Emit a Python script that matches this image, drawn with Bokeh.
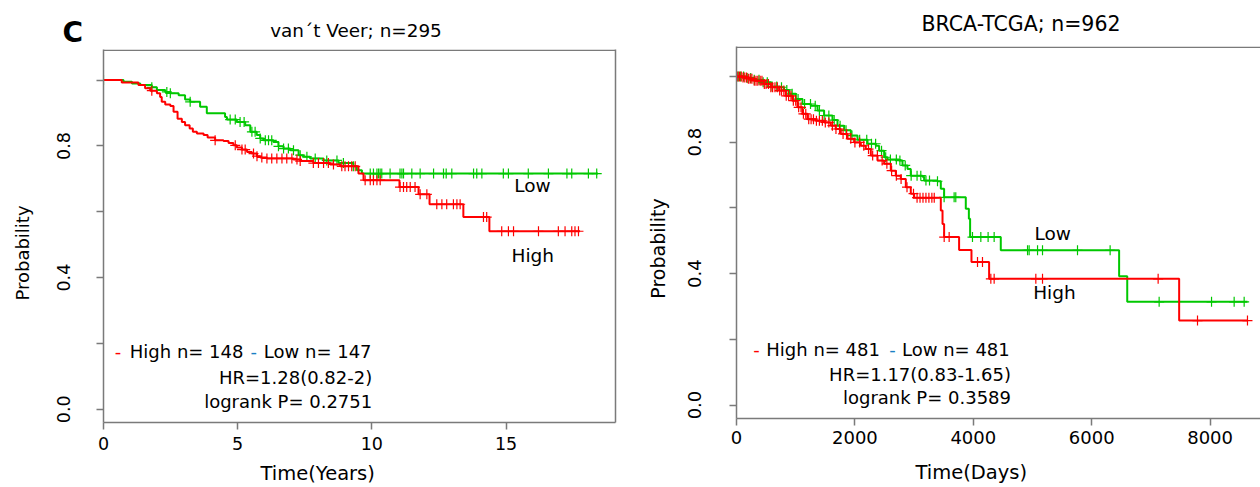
import numpy as np
from bokeh.plotting import figure
from bokeh.models import Range1d, LinearAxis, FixedTicker, Label, PrintfTickFormatter, Span
from bokeh.layouts import row, column
from bokeh.embed import file_html
from bokeh.resources import INLINE

# ---------------- data: van't Veer (years) ----------------
vv_high_t = [0, 0.68, 1.30, 1.55, 1.74, 1.99, 2.11, 2.17, 2.30, 2.49, 2.61, 2.76, 2.92, 3.04, 3.21, 3.33,
             3.48, 3.73, 3.88, 4.16, 4.47, 4.66, 4.84, 4.97, 5.16, 5.35, 5.53, 5.72, 5.84, 6.09, 7.08,
             7.33, 7.82, 8.45, 8.82, 9.50, 9.69, 11.03, 11.74, 12.15, 13.41, 14.38, 17.76]
vv_high_s = [1.0, 0.993, 0.985, 0.975, 0.968, 0.960, 0.949, 0.934, 0.926, 0.921, 0.904, 0.883, 0.873, 0.863,
             0.853, 0.843, 0.838, 0.833, 0.826, 0.817, 0.815, 0.809, 0.802, 0.795, 0.789, 0.782, 0.777,
             0.769, 0.765, 0.762, 0.759, 0.754, 0.748, 0.744, 0.738, 0.716, 0.696, 0.675, 0.653, 0.623,
             0.584, 0.541, 0.541]
vv_low_t = [0, 0.745, 1.06, 1.37, 1.80, 1.99, 2.30, 2.49, 2.80, 3.04, 3.23, 3.60, 3.85, 4.53, 4.60, 4.97,
            5.28, 5.47, 5.71, 5.84, 5.96, 6.33, 6.52, 6.71, 6.96, 7.27, 7.45, 7.70, 8.20, 8.76, 9.31, 9.44,
            9.63, 18.43]
vv_low_s = [1.0, 0.995, 0.990, 0.985, 0.978, 0.970, 0.964, 0.960, 0.954, 0.941, 0.934, 0.919, 0.899, 0.888,
            0.880, 0.873, 0.863, 0.843, 0.833, 0.823, 0.817, 0.812, 0.799, 0.792, 0.787, 0.772, 0.767,
            0.762, 0.756, 0.748, 0.738, 0.726, 0.716, 0.716]
vv_high_cens = [1.80, 4.16, 4.91, 5.16, 5.28, 5.59, 5.72, 5.90, 6.09, 6.27, 6.46, 6.65, 6.83, 7.02, 7.21,
                7.33, 7.82, 8.01, 8.20, 8.38, 8.57, 8.88, 9.00, 9.13, 9.25, 9.38, 9.75, 9.94, 10.06, 10.19,
                10.31, 11.05, 11.18, 11.30, 11.43, 11.61, 11.80, 12.05, 12.42, 12.61, 12.79, 13.04, 13.17,
                13.29, 14.16, 14.28, 14.84, 15.09, 15.28, 16.21, 16.95, 17.20, 17.45, 17.57, 17.70]
vv_low_cens = [0.0, 1.80, 2.36, 2.49, 3.23, 4.72, 4.91, 5.09, 5.24, 5.53, 5.65, 5.84, 6.03, 6.15, 6.27,
               6.52, 6.71, 6.89, 7.08, 7.33, 7.58, 7.89, 8.32, 8.70, 8.94, 9.31, 9.94, 10.06, 10.19, 10.25,
               10.31, 10.37, 10.68, 11.05, 11.12, 11.18, 11.49, 11.80, 12.30, 12.67, 12.77, 12.98, 13.79,
               13.91, 14.10, 14.90, 15.09, 15.83, 16.58, 17.27, 17.45, 18.07, 18.38]

# ---------------- data: BRCA-TCGA (days) ----------------
tc_high_t = [0, 100, 200, 298, 466, 579, 720, 833, 946, 1030, 1115, 1199, 1340, 1480, 1593, 1677, 1762,
             1875, 1987, 2100, 2184, 2269, 2382, 2494, 2606, 2691, 2775, 2860, 2944, 3000, 3451, 3480,
             3507, 3760, 3969, 4267, 7477, 8631]
tc_high_s = [1.0, 0.997, 0.993, 0.987, 0.977, 0.967, 0.957, 0.941, 0.926, 0.906, 0.886, 0.870, 0.865,
             0.860, 0.850, 0.840, 0.825, 0.810, 0.799, 0.789, 0.779, 0.759, 0.744, 0.734, 0.713, 0.698,
             0.688, 0.663, 0.643, 0.631, 0.592, 0.551, 0.511, 0.472, 0.435, 0.384, 0.257, 0.257]
tc_low_t = [0, 150, 300, 410, 579, 720, 804, 889, 1002, 1115, 1255, 1368, 1480, 1621, 1706, 1818, 1931,
            2044, 2213, 2353, 2409, 2494, 2550, 2747, 2804, 2888, 2944, 3142, 3169, 3395, 3451, 3507,
            3873, 3925, 3946, 4464, 6463, 6600, 8631]
tc_low_s = [1.0, 0.995, 0.990, 0.982, 0.969, 0.967, 0.959, 0.947, 0.931, 0.916, 0.911, 0.896, 0.881,
            0.867, 0.850, 0.836, 0.820, 0.807, 0.795, 0.789, 0.774, 0.754, 0.747, 0.744, 0.729, 0.718,
            0.698, 0.695, 0.683, 0.681, 0.658, 0.632, 0.597, 0.567, 0.511, 0.471, 0.392, 0.314, 0.314]
tc_high_cens = [20, 50, 80, 110, 140, 170, 200, 230, 260, 300, 330, 360, 400, 430, 470, 500, 540, 580,
                610, 650, 690, 730, 760, 800, 840, 880, 920, 960, 1000, 1050, 1090, 1130, 1170, 1220,
                1260, 1300, 1350, 1400, 1450, 1500, 1560, 1620, 1680, 1740, 1800, 1860, 1930, 2000, 2080,
                2150, 2230, 2300, 2380, 2460, 2540, 2620, 2700, 2780, 2880, 2990, 3050, 3100, 3150, 3200,
                3250, 3300, 3340, 3508, 3592, 4071, 4155, 4296, 4352, 5056, 5169, 7122, 7787, 8631]
tc_low_cens = [30, 70, 120, 180, 240, 300, 380, 450, 520, 600, 680, 760, 850, 940, 1040, 1150, 1250,
               1330, 1400, 1480, 1560, 1650, 1750, 1850, 1950, 2080, 2200, 2280, 2350, 2450, 2520, 2600,
               2700, 2760, 2850, 2950, 3050, 3113, 3200, 3260, 3395, 3507, 3676, 3704, 3986, 4127, 4250,
               4352, 4916, 4943, 5085, 5169, 5760, 6311, 7139, 8024, 8406, 8575]

FONT = "DejaVu Sans"
RED = "#FF0000"
GREEN = "#00C800"
BLUE = "#1B7FC4"
BOXC = "#7a7a7a"
W, H = 1260, 487
HALF = 630
BOT_Y = 460          # bottom strips (x-axis titles) start here
TOP_L, TOP_R = 48, 42
LS1, LS2 = 44, 48    # strips left of each panel: y-axis titles


def no_align(f):
    try:
        f.frame_align = False
    except Exception:
        pass


def surv_at(times, surv, c):
    idx = np.searchsorted(np.asarray(times), np.asarray(c), side="right") - 1
    return np.asarray(surv)[np.clip(idx, 0, None)]


def style_axis(ax, size, standoff):
    ax.axis_line_color = BOXC
    ax.axis_line_width = 1.5
    ax.major_tick_line_color = BOXC
    ax.major_tick_line_width = 1.5
    ax.major_tick_out = 7
    ax.major_tick_in = 0
    ax.minor_tick_line_color = BOXC
    ax.minor_tick_line_width = 1.5
    ax.minor_tick_out = 7
    ax.minor_tick_in = 0
    ax.major_label_text_font = FONT
    ax.major_label_text_font_size = size
    ax.major_label_text_color = "black"
    ax.major_label_standoff = standoff


def line_axis():
    return LinearAxis(ticker=FixedTicker(ticks=[]), axis_line_color=BOXC, axis_line_width=1.5,
                      major_tick_out=0, major_tick_in=0, minor_tick_out=0, minor_tick_in=0,
                      major_label_standoff=0, axis_label_standoff=0,
                      major_label_text_font_size="0px")


def make_panel(cfg):
    fl, fr, ft, fb = cfg["frame"]      # frame edges in page pixels
    x0, top = cfg["x0"], cfg["top"]
    y0, y1 = cfg["yr"]
    p = figure(width=cfg["w"], height=BOT_Y - top, x_range=Range1d(*cfg["xr"]), y_range=Range1d(y0, y1),
               output_backend="svg", toolbar_location=None,
               min_border_left=fl - x0, min_border_right=x0 + cfg["w"] - fr,
               min_border_top=ft - top, min_border_bottom=BOT_Y - fb)
    no_align(p)
    p.outline_line_color = None
    p.xgrid.visible = False
    p.ygrid.visible = False
    p.background_fill_color = "white"
    p.border_fill_color = "white"
    p.xaxis.ticker = FixedTicker(ticks=cfg["xticks"])
    p.yaxis.ticker = FixedTicker(ticks=[0, 0.4, 0.8], minor_ticks=[0.2, 0.6, 1.0])
    p.yaxis.formatter = PrintfTickFormatter(format="%.1f")
    p.yaxis.major_label_orientation = "vertical"
    style_axis(p.xaxis[0], cfg["tick_size"], cfg["xstand"])
    style_axis(p.yaxis[0], cfg["tick_size"], cfg["ystand"])
    per_px = (y1 - y0) / (fb - ft)
    p.add_layout(Span(location=y1 - 0.75 * per_px, dimension="width", line_color=BOXC, line_width=1.5))
    if cfg["right_line"]:
        p.add_layout(line_axis(), "right")
    return p


def make_conv(cfg):
    x0, x1 = cfg["xr"]
    y0, y1 = cfg["yr"]
    fl, fr, ft, fb = cfg["frame"]

    def conv(px, py):
        return (x0 + (px - fl) / (fr - fl) * (x1 - x0), y1 - (py - ft) / (fb - ft) * (y1 - y0))
    return conv


def make_strip(x0, y0, w, h):
    s = figure(width=w, height=h, x_range=Range1d(x0, x0 + w), y_range=Range1d(0, h),
               output_backend="svg", toolbar_location=None, x_axis_location=None, y_axis_location=None,
               min_border=0, min_border_left=0, min_border_right=0, min_border_top=0,
               min_border_bottom=0)
    no_align(s)
    s.outline_line_color = None
    s.xgrid.visible = False
    s.ygrid.visible = False
    s.background_fill_color = "white"
    s.border_fill_color = "white"

    def conv(px, py):
        return (px, y0 + h - py)
    return s, conv


def put(p, conv, px, py, text, size, color="black", align="left", baseline="alphabetic",
        style="normal", angle=0.0):
    x, y = conv(px, py)
    p.add_layout(Label(x=x, y=y, text=text, text_font=FONT, text_font_size=size, text_color=color,
                       text_align=align, text_baseline=baseline, text_font_style=style, angle=angle))


def draw_km(p, times, surv, cens, color):
    p.step(x=times, y=surv, mode="after", line_color=color, line_width=2)
    p.scatter(x=cens, y=surv_at(times, surv, cens), marker="cross", size=10,
              line_color=color, line_width=1.2)


# ================= left half =================
topL, ctL = make_strip(0, 0, HALF, TOP_L)
put(topL, ctL, 72.3, 31.5, "C", "28px", align="center", style="bold")
put(topL, ctL, 355.5, 29.5, "van´t Veer; n=295", "18.4px", align="center")

ls1, cls1 = make_strip(0, TOP_L, LS1, BOT_Y - TOP_L)
put(ls1, cls1, 22.0, 252.5, "Probability", "18px", align="center", angle=np.pi / 2)

cfg1 = dict(w=HALF - LS1, x0=LS1, top=TOP_L, xr=(0, 19.08), yr=(-0.040, 1.093),
            xticks=[0, 5, 10, 15], tick_size="17.5px", xstand=7, ystand=26, right_line=True,
            frame=(103, 615, 49, 422))
p1 = make_panel(cfg1)
draw_km(p1, vv_low_t, vv_low_s, vv_low_cens, GREEN)
draw_km(p1, vv_high_t, vv_high_s, vv_high_cens, RED)
c1 = make_conv(cfg1)
put(p1, c1, 117.5, 351.0, "-", "18px", color=RED, align="center")
put(p1, c1, 129.3, 351.0, "High n= 148", "18px")
put(p1, c1, 253.3, 351.0, "-", "18px", color=BLUE, align="center")
put(p1, c1, 263.3, 351.0, "Low n= 147", "18px")
put(p1, c1, 371.7, 376.6, "HR=1.28(0.82-2)", "18px", align="right")
put(p1, c1, 371.7, 400.6, "logrank P= 0.2751", "18px", align="right")
put(p1, c1, 513.8, 184.9, "Low", "18.5px")
put(p1, c1, 511.0, 254.7, "High", "18.5px")

botL, cbL = make_strip(0, BOT_Y, HALF, H - BOT_Y)
put(botL, cbL, 260.0, 472.8, "Time(Years)", "19.5px")

# ================= right half =================
topR, ctR = make_strip(HALF, 0, HALF, TOP_R)
put(topR, ctR, 1020.5, 23.0, "BRCA-TCGA; n=962", "20.5px", align="center")

ls2, cls2 = make_strip(HALF, TOP_R, LS2, BOT_Y - TOP_R)
put(ls2, cls2, 657.0, 248.0, "Probability", "19px", align="center", angle=np.pi / 2)

x2 = HALF + LS2
cfg2 = dict(w=W - x2, x0=x2, top=TOP_R, xr=(0, 8851), yr=(-0.041, 1.091),
            xticks=[0, 2000, 4000, 6000, 8000], tick_size="18px", xstand=5, ystand=28,
            right_line=False, frame=(736, 1260, 46, 418))
p2 = make_panel(cfg2)
draw_km(p2, tc_low_t, tc_low_s, tc_low_cens, GREEN)
draw_km(p2, tc_high_t, tc_high_s, tc_high_cens, RED)
c2 = make_conv(cfg2)
put(p2, c2, 756.0, 348.8, "-", "18px", color=RED, align="center")
put(p2, c2, 765.8, 348.8, "High n= 481", "18px")
put(p2, c2, 892.0, 348.8, "-", "18px", color=BLUE, align="center")
put(p2, c2, 901.5, 348.8, "Low n= 481", "18px")
put(p2, c2, 1010.5, 373.8, "HR=1.17(0.83-1.65)", "18px", align="right")
put(p2, c2, 1010.5, 396.8, "logrank P= 0.3589", "18px", align="right")
put(p2, c2, 1034.0, 232.5, "Low", "18.5px")
put(p2, c2, 1032.7, 291.5, "High", "18.5px")

botR, cbR = make_strip(HALF, BOT_Y, HALF, H - BOT_Y)
put(botR, cbR, 915.0, 471.8, "Time(Days)", "19.5px")

left_half = column(topL, row(ls1, p1), botL)
right_half = column(topR, row(ls2, p2), botR)
layout = row(left_half, right_half)
open("out.html", "w").write(file_html(layout, INLINE))
